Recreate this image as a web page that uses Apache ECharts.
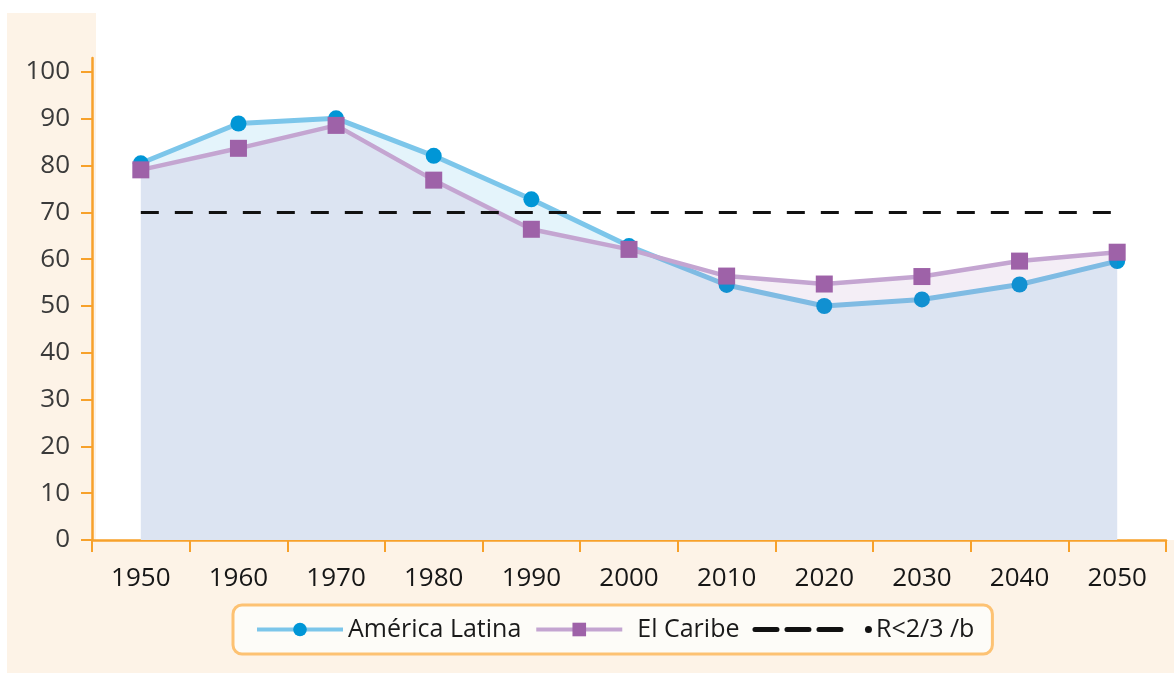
<!DOCTYPE html>
<html>
<head>
<meta charset="utf-8">
<script src="https://cdn.jsdelivr.net/npm/echarts@6/dist/echarts.min.js"></script>
<style>
  html, body { margin: 0; padding: 0; background: #fff; }
  .bg-peach { position: absolute; left: 7px; top: 13px; width: 1167px; height: 660px; background: #fdf3e7; }
  .bg-plot { position: absolute; left: 96px; top: 0; width: 1078px; height: 540px; background: #fff; }
  #chart { position: absolute; left: 0; top: 0; width: 1174px; height: 673px; }
</style>
</head>
<body>
<div class="bg-peach"></div>
<div class="bg-plot"></div>
<div id="chart"></div>
<script>
// años
const years = ["1950", "1960", "1970", "1980", "1990", "2000", "2010", "2020", "2030", "2040", "2050"];
// series
const americaLatina = [80.5, 89.0, 90.1, 82.1, 72.8, 62.8, 54.5, 50.0, 51.4, 54.6, 59.6];
const elCaribe = [79.1, 83.7, 88.6, 76.9, 66.4, 62.1, 56.4, 54.7, 56.3, 59.6, 61.5];
const umbral = [70, 70, 70, 70, 70, 70, 70, 70, 70, 70, 70];
const yTicks = [0, 10, 20, 30, 40, 50, 60, 70, 80, 90, 100];

const orange = "#f7a12b";
const font = "'Open Sans', Lato, sans-serif";

let myChart = echarts.init(document.getElementById("chart"), null, { renderer: "canvas" });
myChart.setOption({
  backgroundColor: "transparent",
  animation: false,
  textStyle: { fontFamily: font },
  grid: {
    left: 92,
    right: 8,
    top: 58,
    bottom: 133,
    containLabel: false,
  },
  legend: {
    left: 233,
    top: 605,
    padding: [12, 18, 12, 22],
    itemGap: 13,
    itemWidth: 86,
    itemHeight: 17,
    backgroundColor: "#fdfcf8",
    borderColor: "#fdc273",
    borderWidth: 3,
    borderRadius: 9,
    textStyle: {
      fontSize: 25,
      color: "#1a1a1a",
      fontFamily: font,
      rich: {
        sp: { width: 10 },
        gap: { width: 19 },
        dot: { width: 7, height: 7, backgroundColor: "#111", borderRadius: 4 },
        pad: { width: 4 },
      },
    },
    formatter: function (name) {
      if (name === "El Caribe") return "{sp|}" + name;
      if (name === "R<2/3 /b") return "{gap|}{dot|}{pad|}" + name;
      return name;
    },
    data: [
      { name: "América Latina", lineStyle: { width: 4 } },
      { name: "El Caribe", lineStyle: { width: 4 } },
      {
        name: "R<2/3 /b",
        itemStyle: { color: "rgba(0,0,0,0)", borderWidth: 0 },
        lineStyle: { width: 5, type: [22, 10], cap: "round" },
      },
    ],
  },
  xAxis: {
    type: "category",
    data: years,
    boundaryGap: true,
    axisLine: { lineStyle: { color: orange, width: 2.5 } },
    axisTick: { show: true, interval: 0, length: 12, lineStyle: { color: orange, width: 2 } },
    axisLabel: { interval: 0, margin: 26, fontSize: 26, color: "#161616", fontFamily: font },
    splitLine: { show: false },
  },
  yAxis: {
    type: "value",
    min: 0,
    max: 103,
    interval: 10,
    axisLine: { show: true, lineStyle: { color: orange, width: 2.5 } },
    axisTick: { show: true, length: 11, customValues: yTicks, lineStyle: { color: orange, width: 2 } },
    axisLabel: { margin: 22, fontSize: 26, color: "#3a3a3a", fontFamily: font, customValues: yTicks },
    splitLine: { show: false },
  },
  series: [
    {
      name: "América Latina",
      type: "line",
      data: americaLatina,
      symbol: "circle",
      symbolSize: 16,
      itemStyle: { color: "#0096d6" },
      lineStyle: { color: "#7cc6ea", width: 5 },
      areaStyle: { color: "#e4f4fb", opacity: 1 },
      z: 2,
    },
    {
      name: "El Caribe",
      type: "line",
      data: elCaribe,
      symbol: "rect",
      symbolSize: 17,
      itemStyle: { color: "#9e62a8" },
      lineStyle: { color: "#c4a5d1", width: 4.5 },
      areaStyle: { color: "rgb(156,102,174)", opacity: 0.11 },
      z: 3,
    },
    {
      name: "R<2/3 /b",
      type: "line",
      data: umbral,
      symbol: "none",
      itemStyle: { color: "#111" },
      lineStyle: { color: "#111", width: 3, type: [18, 16] },
      z: 4,
    },
  ],
});
</script>
</body>
</html>
